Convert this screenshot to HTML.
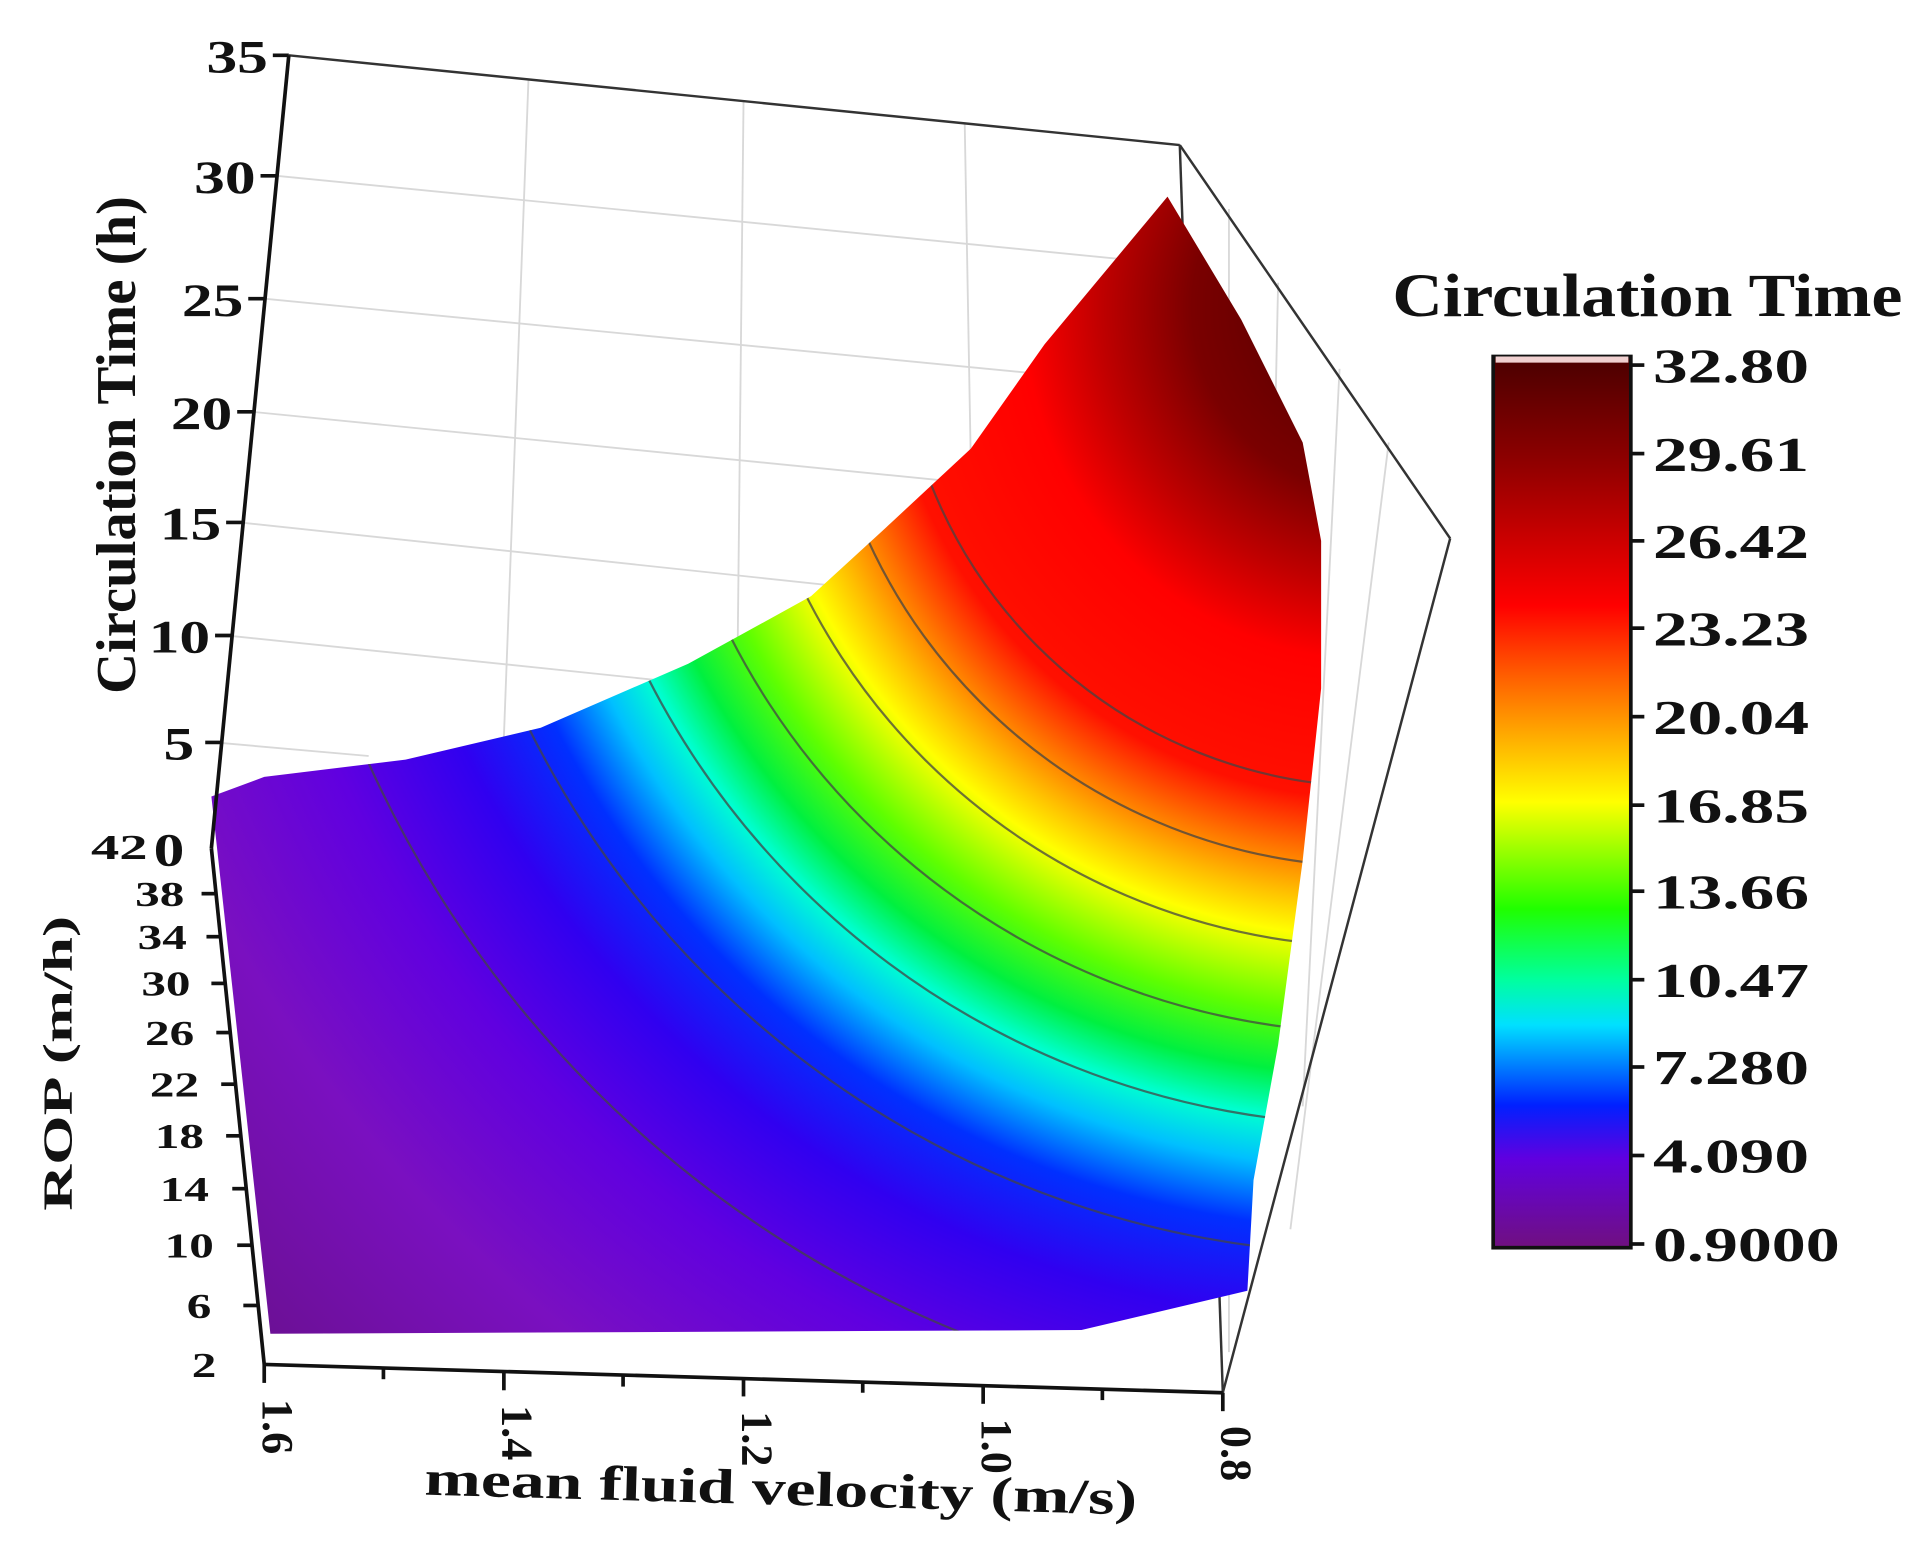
<!DOCTYPE html>
<html><head><meta charset="utf-8"><style>html,body{margin:0;padding:0;background:#fff}svg{display:block}</style></head>
<body>
<svg width="1927" height="1555" viewBox="0 0 1568 1265" preserveAspectRatio="none" xmlns="http://www.w3.org/2000/svg" font-family="Liberation Serif, serif" font-weight="bold">
<defs>
<radialGradient id="sg" gradientUnits="userSpaceOnUse" cx="1120" cy="250" r="1250">
<stop offset="0" stop-color="#4a0000"/>
<stop offset="0.12" stop-color="#7a0000"/>
<stop offset="0.18" stop-color="#c00000"/>
<stop offset="0.23" stop-color="#ff0000"/>
<stop offset="0.32" stop-color="#ff1000"/>
<stop offset="0.355" stop-color="#ff7000"/>
<stop offset="0.385" stop-color="#ffc000"/>
<stop offset="0.41" stop-color="#ffff00"/>
<stop offset="0.46" stop-color="#60ff00"/>
<stop offset="0.50" stop-color="#00f040"/>
<stop offset="0.53" stop-color="#00ffd0"/>
<stop offset="0.56" stop-color="#00c0ff"/>
<stop offset="0.60" stop-color="#0030ff"/>
<stop offset="0.66" stop-color="#3000f0"/>
<stop offset="0.74" stop-color="#6000e0"/>
<stop offset="0.85" stop-color="#7a10c0"/>
<stop offset="1" stop-color="#6a1090"/>
</radialGradient>
<linearGradient id="cb" x1="0" y1="0" x2="0" y2="1">
<stop offset="0" stop-color="#4a0000"/>
<stop offset="0.12" stop-color="#900000"/>
<stop offset="0.28" stop-color="#ff0000"/>
<stop offset="0.36" stop-color="#ff6000"/>
<stop offset="0.43" stop-color="#ffb000"/>
<stop offset="0.5" stop-color="#ffff00"/>
<stop offset="0.62" stop-color="#20ff00"/>
<stop offset="0.70" stop-color="#00ffa0"/>
<stop offset="0.75" stop-color="#00e0ff"/>
<stop offset="0.84" stop-color="#0020ff"/>
<stop offset="0.9" stop-color="#6000e0"/>
<stop offset="1" stop-color="#701080"/>
</linearGradient>
<clipPath id="sc"><path d="M172,648 L215,632 L330,618 L440,592 L560,540 L660,485 L720,430 L790,365 L850,280 L950,160 L1010,260 L1060,360 L1075,440 L1075,560 L1060,700 L1040,850 L1020,960 L1015,1050 L880,1082 L220,1085 Z"/></clipPath>
</defs>
<g stroke="#d8d8d8" stroke-width="1.5" fill="none">
<line x1="430" y1="65" x2="410" y2="600"/>
<line x1="605" y1="83" x2="600" y2="550"/>
<line x1="785" y1="101" x2="790" y2="380"/>
<line x1="225" y1="143" x2="955" y2="215"/>
<line x1="215" y1="243" x2="958" y2="315"/>
<line x1="205" y1="335" x2="960" y2="410"/>
<line x1="195" y1="425" x2="900" y2="500"/>
<line x1="185" y1="517" x2="600" y2="560"/>
<line x1="175" y1="604" x2="300" y2="615"/>
<line x1="1000" y1="170" x2="1000" y2="1100"/>
<line x1="1040" y1="230" x2="1030" y2="700"/>
<line x1="1090" y1="300" x2="1060" y2="900"/>
<line x1="1130" y1="360" x2="1050" y2="1000"/>
</g>
<g stroke="#333" stroke-width="2" fill="none">
<line x1="235" y1="45" x2="960" y2="118"/>
<line x1="960" y1="118" x2="1180" y2="438"/>
<line x1="1180" y1="438" x2="995" y2="1133"/>
<line x1="960" y1="118" x2="995" y2="1133"/>
</g>
<path d="M172,648 L215,632 L330,618 L440,592 L560,540 L660,485 L720,430 L790,365 L850,280 L950,160 L1010,260 L1060,360 L1075,440 L1075,560 L1060,700 L1040,850 L1020,960 L1015,1050 L880,1082 L220,1085 Z" fill="url(#sg)"/>
<g clip-path="url(#sc)" fill="none" stroke="#444" stroke-width="1.8" opacity="0.75">
<circle cx="1120" cy="250" r="390"/>
<circle cx="1120" cy="250" r="455"/>
<circle cx="1120" cy="250" r="520"/>
<circle cx="1120" cy="250" r="590"/>
<circle cx="1120" cy="250" r="665"/>
<circle cx="1120" cy="250" r="770"/>
<circle cx="1120" cy="250" r="900"/>
</g>
<g stroke="#111" stroke-width="3" fill="none">
<line x1="235" y1="45" x2="172" y2="690"/>
<line x1="172" y1="690" x2="215" y2="1110"/>
<line x1="215" y1="1110" x2="995" y2="1133"/>
<line x1="235" y1="45" x2="222" y2="45"/><line x1="225" y1="143" x2="212" y2="143"/><line x1="215" y1="243" x2="202" y2="243"/><line x1="206" y1="335" x2="193" y2="335"/><line x1="197" y1="425" x2="184" y2="425"/><line x1="188" y1="517" x2="175" y2="517"/><line x1="180" y1="604" x2="167" y2="604"/>
<line x1="176" y1="727" x2="164" y2="727"/><line x1="180" y1="762" x2="168" y2="762"/><line x1="184" y1="800" x2="172" y2="800"/><line x1="188" y1="840" x2="176" y2="840"/><line x1="192" y1="882" x2="180" y2="882"/><line x1="196" y1="924" x2="184" y2="924"/><line x1="201" y1="967" x2="189" y2="967"/><line x1="205" y1="1013" x2="193" y2="1013"/><line x1="210" y1="1062" x2="198" y2="1062"/>
<line x1="215" y1="1110" x2="215" y2="1125"/><line x1="410" y1="1116" x2="410" y2="1131"/><line x1="605" y1="1121" x2="605" y2="1136"/><line x1="800" y1="1127" x2="800" y2="1142"/><line x1="995" y1="1133" x2="995" y2="1148"/>
<line x1="312" y1="1113" x2="312" y2="1122"/><line x1="507" y1="1119" x2="507" y2="1128"/><line x1="702" y1="1124" x2="702" y2="1133"/><line x1="897" y1="1130" x2="897" y2="1139"/>
</g>
<g font-size="38" text-anchor="end" fill="#111">
<text x="218" y="59" textLength="50" lengthAdjust="spacingAndGlyphs">35</text><text x="208" y="157" textLength="50" lengthAdjust="spacingAndGlyphs">30</text><text x="198" y="257" textLength="50" lengthAdjust="spacingAndGlyphs">25</text><text x="189" y="349" textLength="50" lengthAdjust="spacingAndGlyphs">20</text><text x="180" y="439" textLength="50" lengthAdjust="spacingAndGlyphs">15</text><text x="171" y="531" textLength="50" lengthAdjust="spacingAndGlyphs">10</text><text x="158" y="618" textLength="25" lengthAdjust="spacingAndGlyphs">5</text><text x="150" y="704" textLength="25" lengthAdjust="spacingAndGlyphs">0</text>
</g>
<g font-size="28" text-anchor="end" fill="#111">
<text x="120" y="699" textLength="46" lengthAdjust="spacingAndGlyphs">42</text><text x="150" y="737" textLength="40" lengthAdjust="spacingAndGlyphs">38</text><text x="152" y="772" textLength="40" lengthAdjust="spacingAndGlyphs">34</text><text x="155" y="810" textLength="40" lengthAdjust="spacingAndGlyphs">30</text><text x="158" y="850" textLength="40" lengthAdjust="spacingAndGlyphs">26</text><text x="162" y="892" textLength="40" lengthAdjust="spacingAndGlyphs">22</text><text x="166" y="934" textLength="40" lengthAdjust="spacingAndGlyphs">18</text><text x="170" y="977" textLength="40" lengthAdjust="spacingAndGlyphs">14</text><text x="174" y="1023" textLength="40" lengthAdjust="spacingAndGlyphs">10</text><text x="172" y="1072" textLength="20" lengthAdjust="spacingAndGlyphs">6</text><text x="176" y="1120" textLength="20" lengthAdjust="spacingAndGlyphs">2</text>
</g>
<g font-size="36" fill="#111">
<text transform="translate(214,1138) rotate(90)">1.6</text>
<text transform="translate(409,1143) rotate(90)">1.4</text>
<text transform="translate(604,1148) rotate(90)">1.2</text>
<text transform="translate(799,1154) rotate(90)">1.0</text>
<text transform="translate(994,1160) rotate(90)">0.8</text>
</g>
<text transform="translate(110,362) rotate(-90)" font-size="46" text-anchor="middle" fill="#111" textLength="405" lengthAdjust="spacingAndGlyphs">Circulation Time (h)</text>
<text transform="translate(58,865) rotate(-90)" font-size="34" text-anchor="middle" fill="#111" textLength="240" lengthAdjust="spacingAndGlyphs">ROP (m/h)</text>
<text transform="translate(635,1224) rotate(1.6)" font-size="40" text-anchor="middle" fill="#111" textLength="580" lengthAdjust="spacingAndGlyphs">mean fluid velocity (m/s)</text>
<text x="1133" y="257" font-size="50" fill="#111" textLength="415" lengthAdjust="spacingAndGlyphs">Circulation Time</text>
<rect x="1215" y="290" width="112" height="725" fill="url(#cb)" stroke="#111" stroke-width="3"/>
<rect x="1217" y="290" width="108" height="5" fill="#f0d0d0"/>
<g stroke="#111" stroke-width="3">
<line x1="1327" y1="297" x2="1338" y2="297"/><line x1="1327" y1="369" x2="1338" y2="369"/><line x1="1327" y1="440" x2="1338" y2="440"/><line x1="1327" y1="511" x2="1338" y2="511"/><line x1="1327" y1="583" x2="1338" y2="583"/><line x1="1327" y1="655" x2="1338" y2="655"/><line x1="1327" y1="725" x2="1338" y2="725"/><line x1="1327" y1="797" x2="1338" y2="797"/><line x1="1327" y1="868" x2="1338" y2="868"/><line x1="1327" y1="940" x2="1338" y2="940"/><line x1="1327" y1="1012" x2="1338" y2="1012"/>
</g>
<g font-size="40" fill="#111">
<text x="1345" y="311" textLength="127" lengthAdjust="spacingAndGlyphs">32.80</text><text x="1345" y="383" textLength="127" lengthAdjust="spacingAndGlyphs">29.61</text><text x="1345" y="454" textLength="127" lengthAdjust="spacingAndGlyphs">26.42</text><text x="1345" y="525" textLength="127" lengthAdjust="spacingAndGlyphs">23.23</text><text x="1345" y="597" textLength="127" lengthAdjust="spacingAndGlyphs">20.04</text><text x="1345" y="669" textLength="127" lengthAdjust="spacingAndGlyphs">16.85</text><text x="1345" y="739" textLength="127" lengthAdjust="spacingAndGlyphs">13.66</text><text x="1345" y="811" textLength="127" lengthAdjust="spacingAndGlyphs">10.47</text><text x="1345" y="882" textLength="127" lengthAdjust="spacingAndGlyphs">7.280</text><text x="1345" y="954" textLength="127" lengthAdjust="spacingAndGlyphs">4.090</text><text x="1345" y="1026" textLength="152" lengthAdjust="spacingAndGlyphs">0.9000</text>
</g>
</svg>
</body></html>
